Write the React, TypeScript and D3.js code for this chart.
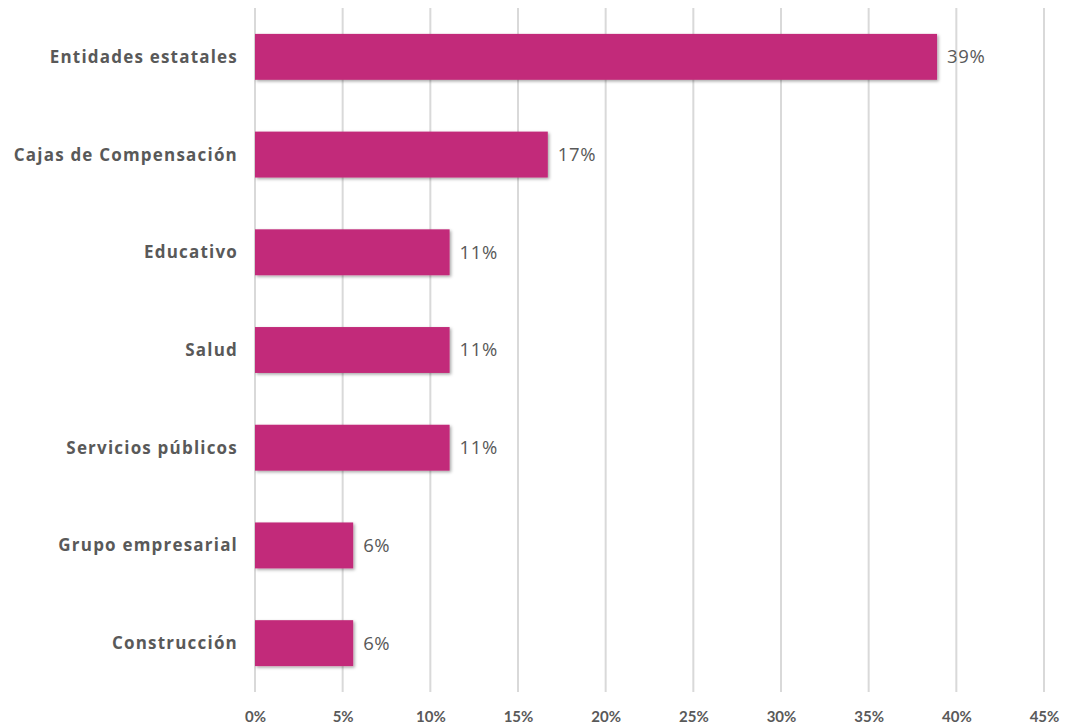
import { useRef, useEffect } from 'react';
import { select, scaleLinear, scaleBand, axisBottom } from 'd3';

const categories = [
  'Entidades estatales',
  'Cajas de Compensación',
  'Educativo',
  'Salud',
  'Servicios públicos',
  'Grupo empresarial',
  'Construcción',
];
const values = [38.9, 16.7, 11.1, 11.1, 11.1, 5.6, 5.6];
const valueLabels = ['39%', '17%', '11%', '11%', '11%', '6%', '6%'];
const xTicks = [0, 5, 10, 15, 20, 25, 30, 35, 40, 45];

export default function App() {
  const svgRef = useRef<SVGSVGElement>(null);

  useEffect(() => {
    if (!svgRef.current) return;
    const svg = select(svgRef.current);
    svg.selectAll('*').remove();

    const width = 1066;
    const height = 726;
    const margin = { top: 8, right: 22, bottom: 34, left: 255 };
    const innerW = width - margin.left - margin.right;
    const innerH = height - margin.top - margin.bottom;

    svg.attr('width', width).attr('height', height);

    const defs = svg.append('defs');
    const filt = defs.append('filter').attr('id', 'barShadow')
      .attr('x', '-5%').attr('y', '-10%').attr('width', '115%').attr('height', '130%');
    filt.append('feDropShadow').attr('dx', 1.5).attr('dy', 1.5).attr('stdDeviation', 1.5)
      .attr('flood-color', '#000').attr('flood-opacity', 0.35);

    const g = svg.append('g').attr('transform', `translate(${margin.left},${margin.top})`);

    const x = scaleLinear().domain([0, 45]).range([0, innerW]);
    const y = scaleBand().domain(categories).range([0, innerH]).paddingInner(0.53).paddingOuter(0.265);

    // Grid
    g.selectAll('.grid').data(xTicks).join('line')
      .attr('x1', d => x(d)).attr('x2', d => x(d))
      .attr('y1', 0).attr('y2', innerH)
      .attr('stroke', '#d9d9d9').attr('stroke-width', 2);

    // X axis
    const xAxis = g.append('g').attr('transform', `translate(0,${innerH})`)
      .call(axisBottom(x).tickValues(xTicks).tickSize(0).tickPadding(19).tickFormat(d => `${d}%`) as any);
    xAxis.select('.domain').remove();
    xAxis.selectAll('text')
      .attr('fill', '#595959').style('font-size', '15px').style('font-weight', '700')
      .style('font-family', 'Lato, "Open Sans", sans-serif');

    // Category labels
    g.selectAll('.cat').data(categories).join('text')
      .attr('x', -17).attr('y', d => (y(d) ?? 0) + y.bandwidth() / 2)
      .attr('dy', '0.35em').attr('text-anchor', 'end')
      .attr('fill', '#595959').style('font-size', '17px').style('font-weight', '700')
      .style('letter-spacing', '1.2px')
      .style('font-family', '"Open Sans", sans-serif')
      .text(d => d);

    // Bars
    g.selectAll('.bar').data(values).join('rect')
      .attr('x', 0).attr('y', (_, i) => y(categories[i]) ?? 0)
      .attr('width', d => x(d)).attr('height', y.bandwidth())
      .attr('fill', '#c22b7a').attr('filter', 'url(#barShadow)');

    // Value labels
    g.selectAll('.val').data(values).join('text')
      .attr('x', d => x(d) + 10).attr('y', (_, i) => (y(categories[i]) ?? 0) + y.bandwidth() / 2)
      .attr('dy', '0.35em')
      .attr('fill', '#595959').style('font-size', '18.5px').style('font-weight', '400')
      .style('letter-spacing', '0.6px')
      .style('font-family', '"Open Sans", sans-serif')
      .text((_, i) => valueLabels[i]);
  }, []);

  return (
    <div style={{ position: 'absolute', left: 0, top: 0, background: '#fff' }}>
      <svg ref={svgRef} style={{ display: 'block' }} />
    </div>
  );
}
